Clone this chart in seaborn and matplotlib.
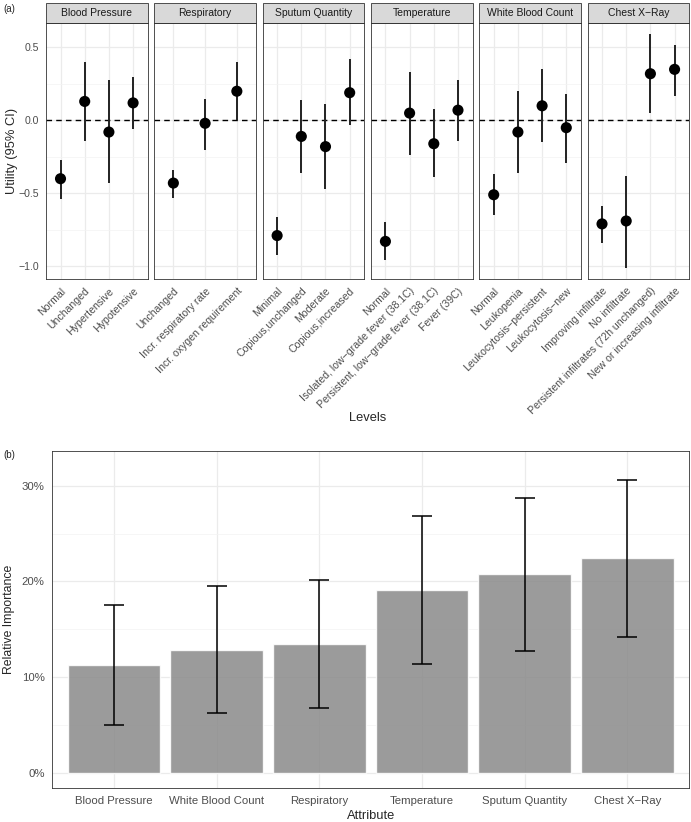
import numpy as np
import pandas as pd
import matplotlib
matplotlib.use('Agg')
import matplotlib.pyplot as plt
import matplotlib.ticker as mtick
from matplotlib.patches import Rectangle
import seaborn as sns

# ---- data: level utilities (panel a) ----
attributes = ['Blood Pressure', 'Respiratory', 'Sputum Quantity',
              'Temperature', 'White Blood Count', 'Chest X\u2212Ray']

level_attr = (['Blood Pressure'] * 4 + ['Respiratory'] * 3 + ['Sputum Quantity'] * 4
              + ['Temperature'] * 4 + ['White Blood Count'] * 4 + ['Chest X\u2212Ray'] * 4)
level_names = ['Normal', 'Unchanged', 'Hypertensive', 'Hypotensive',
               'Unchanged', 'Incr. respiratory rate', 'Incr. oxygen requirement',
               'Minimal', 'Copious,unchanged', 'Moderate', 'Copious,increased',
               'Normal', 'Isolated, low\u2212grade fever (38.1C)',
               'Persistent, low\u2212grade fever (38.1C)', 'Fever (39C)',
               'Normal', 'Leukopenia', 'Leukocytosis\u2212persistent', 'Leukocytosis\u2212new',
               'Improving infiltrate', 'No infiltrate',
               'Persistent infiltrates (72h unchanged)', 'New or increasing infiltrate']
utility = [-0.40, 0.13, -0.08, 0.12,
           -0.43, -0.02, 0.20,
           -0.79, -0.11, -0.18, 0.19,
           -0.83, 0.05, -0.16, 0.07,
           -0.51, -0.08, 0.10, -0.05,
           -0.71, -0.69, 0.32, 0.35]
util_lo = [-0.54, -0.14, -0.43, -0.06,
           -0.53, -0.20, 0.00,
           -0.92, -0.36, -0.47, -0.03,
           -0.96, -0.24, -0.39, -0.14,
           -0.65, -0.36, -0.15, -0.29,
           -0.84, -1.01, 0.05, 0.17]
util_hi = [-0.27, 0.40, 0.28, 0.30,
           -0.34, 0.15, 0.40,
           -0.66, 0.14, 0.11, 0.42,
           -0.70, 0.33, 0.08, 0.28,
           -0.37, 0.20, 0.35, 0.18,
           -0.59, -0.38, 0.59, 0.52]

# ---- data: relative importance (panel b) ----
imp_attr = ['Blood Pressure', 'White Blood Count', 'Respiratory',
            'Temperature', 'Sputum Quantity', 'Chest X\u2212Ray']
importance = [11.25, 12.87, 13.47, 19.06, 20.73, 22.40]
imp_lo = [5.06, 6.30, 6.77, 11.35, 12.74, 14.23]
imp_hi = [17.50, 19.50, 20.17, 26.80, 28.70, 30.60]

sns.set_style('white')
plt.rcParams['font.family'] = ['Liberation Sans', 'DejaVu Sans']

util_df = pd.DataFrame({'attribute': level_attr, 'level': level_names,
                        'utility': utility, 'lower': util_lo, 'upper': util_hi})
util_df['pos'] = util_df.groupby('attribute').cumcount()

GRID = '#EBEBEB'
FRAME = '#333333'
TXT = '#4D4D4D'


def draw_levels(data, **kws):
    ax = plt.gca()
    ax.vlines(data['pos'], data['lower'], data['upper'], color='#222222', lw=1.4, zorder=2)
    sns.scatterplot(data=data, x='pos', y='utility', color='black', s=64,
                    edgecolor='none', ax=ax, zorder=3)
    ax.axhline(0, ls=(0, (4, 3)), color='black', lw=1.0, zorder=1)


g = sns.FacetGrid(util_df, col='attribute', col_order=attributes, sharex=False,
                  sharey=True, despine=False, height=3, aspect=0.4)
g.map_dataframe(draw_levels)
fig = g.figure
fig.set_size_inches(6.91, 8.22)
fig.set_dpi(100)
g.set_titles('')
g.set_axis_labels('', '')

W, H = 691.0, 822.0
ymin_d = min(util_lo)
ymax_d = max(util_hi)
pad = 0.05 * (ymax_d - ymin_d)
for i, (ax, att) in enumerate(zip(g.axes.flat, attributes)):
    left = 46 + i * (101.6 + 6.7)
    ax.set_position([left / W, 1 - 279.3 / H, 101.6 / W, 256.6 / H])
    sub = util_df[util_df['attribute'] == att]
    ax.set_xticks(sub['pos'])
    ax.set_xticklabels(sub['level'], rotation=45, ha='right', va='top',
                       rotation_mode='anchor', fontsize=7.6, color=TXT)
    ax.set_xlim(-0.6, len(sub) - 0.4)
    ax.set_ylim(ymin_d - pad, ymax_d + pad)
    ax.set_yticks([-1.0, -0.5, 0.0, 0.5])
    ax.set_yticks([-0.75, -0.25, 0.25], minor=True)
    ax.grid(which='major', color=GRID, lw=0.9)
    ax.grid(which='minor', axis='y', color='#F3F3F3', lw=0.5)
    ax.set_axisbelow(True)
    ax.tick_params(which='major', length=2.75, width=0.6, color=FRAME,
                   labelsize=7.6, labelcolor=TXT, pad=2)
    ax.tick_params(which='minor', length=0)
    if i > 0:
        ax.tick_params(axis='y', length=0)
    for sp in ax.spines.values():
        sp.set_color(FRAME)
        sp.set_linewidth(0.6)
    ax.add_patch(Rectangle((0, 1), 1, 19.7 / 256.6, transform=ax.transAxes,
                           clip_on=False, facecolor='#D9D9D9', edgecolor=FRAME, lw=0.6))
    ax.text(0.5, 1 + 9.85 / 256.6, att, transform=ax.transAxes, ha='center',
            va='center', fontsize=7.5, color='#1A1A1A')

ax0 = g.axes.flat[0]
ax0.set_ylabel('Utility (95% CI)', fontsize=9.3)
ax0.yaxis.set_label_coords(-28 / 101.6, 0.5)
fig.text(367.5 / W, 1 - 418 / H, 'Levels', ha='center', va='center', fontsize=9.3)
fig.text(3 / W, 1 - 9 / H, '(a)', ha='left', va='center', fontsize=7)

# ---- panel b ----
imp_df = pd.DataFrame({'attribute': imp_attr, 'importance': importance,
                       'lower': imp_lo, 'upper': imp_hi})
axb = fig.add_axes([52.3 / W, 1 - 788.3 / H, 636.7 / W, 337.3 / H])
sns.barplot(data=imp_df, x='attribute', y='importance', color='#8a8a8a', alpha=0.85,
            saturation=1, width=0.9, errorbar=None, ax=axb, zorder=2)
xpos = np.arange(len(imp_df))
axb.errorbar(xpos, imp_df['importance'],
             yerr=[imp_df['importance'] - imp_df['lower'], imp_df['upper'] - imp_df['importance']],
             fmt='none', ecolor='black', elinewidth=1.1, capsize=7, capthick=1.1, zorder=3)
axb.set_xlim(-0.6, len(imp_df) - 0.4)
axb.set_ylim(-1.56, 33.6)
axb.set_yticks([0, 10, 20, 30])
axb.set_yticks([5, 15, 25], minor=True)
axb.yaxis.set_major_formatter(mtick.PercentFormatter(xmax=100, decimals=0))
axb.grid(which='major', color=GRID, lw=0.9)
axb.grid(which='minor', axis='y', color='#F3F3F3', lw=0.5)
axb.set_axisbelow(True)
axb.tick_params(which='major', length=3.5, width=0.6, color=FRAME,
                labelsize=8.2, labelcolor=TXT, pad=2)
axb.tick_params(which='minor', length=0)
for sp in axb.spines.values():
    sp.set_color(FRAME)
    sp.set_linewidth(0.6)
axb.set_xlabel('Attribute', fontsize=9.3, labelpad=3)
axb.set_ylabel('Relative Importance', fontsize=8.8)
axb.yaxis.set_label_coords(-37 / 636.7, 0.5)
fig.text(3 / W, 1 - 455 / H, '(b)', ha='left', va='center', fontsize=7)

fig.savefig('out.png', dpi=100)
